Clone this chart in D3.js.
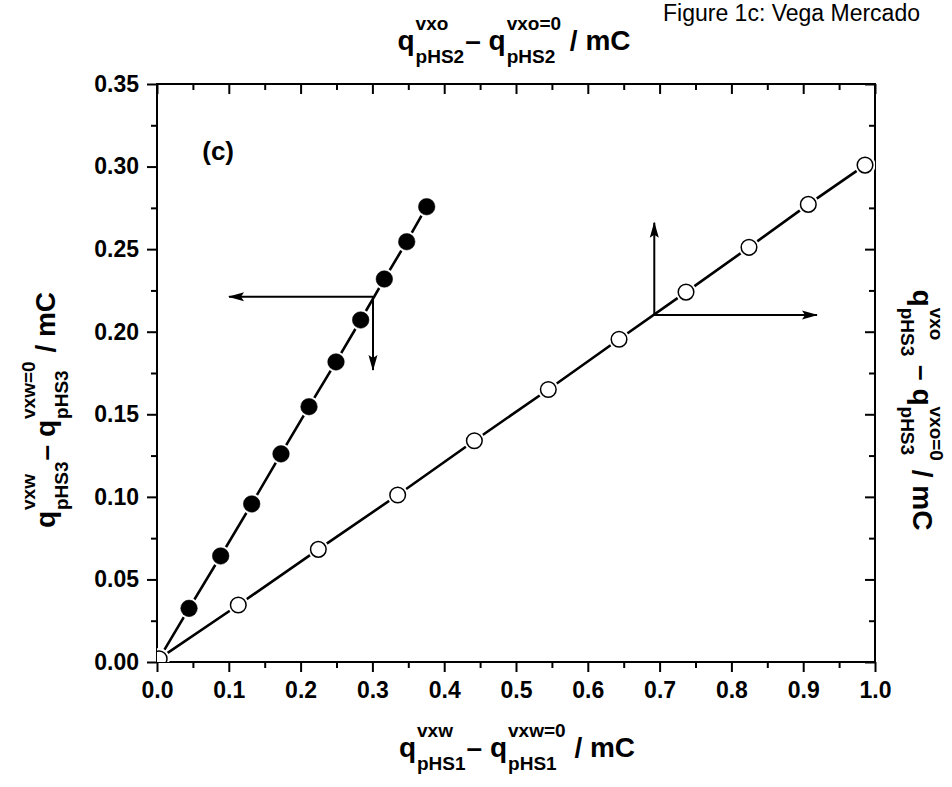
<!DOCTYPE html>
<html>
<head>
<meta charset="utf-8">
<script src="https://cdn.jsdelivr.net/npm/d3@7"></script>
<style>
  body { margin: 0; background: #fff; }
  svg { display: block; font-family: "Liberation Sans", Arial, sans-serif; }
</style>
</head>
<body>
<svg id="chart" width="952" height="787"></svg>
<script>
// Filled circles (vxw series, read on bottom/left axes)
const filledX = [0.003, 0.0446, 0.0887, 0.1319, 0.1727, 0.2117, 0.2493, 0.2837, 0.3166, 0.3478, 0.3756];
const filledY = [0.002, 0.0325, 0.0642, 0.0957, 0.1260, 0.1546, 0.1817, 0.2071, 0.2319, 0.2545, 0.2757];

// Open circles (vxo series, read on top/right axes)
const openX = [0.003, 0.1132, 0.2247, 0.3352, 0.442, 0.545, 0.6435, 0.7368, 0.8245, 0.9071, 0.9861];
const openY = [0.002, 0.0345, 0.0682, 0.1011, 0.134, 0.165, 0.1954, 0.2240, 0.2511, 0.2771, 0.3009];

const xTicks = [0, 0.1, 0.2, 0.3, 0.4, 0.5, 0.6, 0.7, 0.8, 0.9, 1.0];
const xMinor = [0.05, 0.15, 0.25, 0.35, 0.45, 0.55, 0.65, 0.75, 0.85, 0.95];
const yTicks = [0, 0.05, 0.1, 0.15, 0.2, 0.25, 0.3, 0.35];
const yMinor = [0.025, 0.075, 0.125, 0.175, 0.225, 0.275, 0.325];

// arrow annotations: [x1, y1, x2, y2] in data units
const arrows = [
  [0.3008, 0.2212, 0.1003, 0.2212],
  [0.3008, 0.2212, 0.3008, 0.1768],
  [0.6926, 0.2101, 0.6926, 0.2660],
  [0.6926, 0.2101, 0.9192, 0.2101]
];

const svg = d3.select("#chart");
const frame = { left: 157, right: 875, top: 84, bottom: 662 };

const x = d3.scaleLinear().domain([0, 1]).range([frame.left, frame.right]);
const y = d3.scaleLinear().domain([0, 0.35]).range([frame.bottom, frame.top]);

svg.append("rect").attr("width", 952).attr("height", 787).attr("fill", "#fff");

const defs = svg.append("defs");
defs.append("clipPath").attr("id", "plotClip")
  .append("rect")
  .attr("x", frame.left).attr("y", frame.top)
  .attr("width", frame.right - frame.left).attr("height", frame.bottom - frame.top);

defs.append("marker")
  .attr("id", "head")
  .attr("markerUnits", "userSpaceOnUse")
  .attr("viewBox", "0 0 16 10")
  .attr("refX", 15).attr("refY", 5)
  .attr("markerWidth", 16).attr("markerHeight", 10)
  .attr("orient", "auto")
  .append("path")
  .attr("d", "M0,0.5 L16,5 L0,9.5 L3,5 Z")
  .attr("fill", "#000");

function styleAxis(g, withText) {
  g.select(".domain").remove();
  g.selectAll(".tick line").attr("stroke", "#000").attr("stroke-width", 2);
  if (withText) {
    g.attr("font-size", 23).attr("font-weight", "bold")
      .attr("font-family", "'Liberation Sans', Arial, sans-serif");
    g.selectAll(".tick text").attr("fill", "#000");
  }
}

// bottom axis
svg.append("g").attr("transform", `translate(0,${frame.bottom})`)
  .call(d3.axisBottom(x).tickValues(xTicks).tickSize(10).tickPadding(10).tickFormat(d3.format(".1f")))
  .call(g => styleAxis(g, true));
svg.append("g").attr("transform", `translate(0,${frame.bottom})`)
  .call(d3.axisBottom(x).tickValues(xMinor).tickSize(6).tickFormat(""))
  .call(g => styleAxis(g, false));

// left axis
svg.append("g").attr("transform", `translate(${frame.left},0)`)
  .call(d3.axisLeft(y).tickValues(yTicks).tickSize(10).tickPadding(8).tickFormat(d3.format(".2f")))
  .call(g => styleAxis(g, true));
svg.append("g").attr("transform", `translate(${frame.left},0)`)
  .call(d3.axisLeft(y).tickValues(yMinor).tickSize(6).tickFormat(""))
  .call(g => styleAxis(g, false));

// top axis (ticks inside, no labels)
svg.append("g").attr("transform", `translate(0,${frame.top})`)
  .call(d3.axisTop(x).tickValues(xTicks).tickSize(-10).tickFormat(""))
  .call(g => styleAxis(g, false));
svg.append("g").attr("transform", `translate(0,${frame.top})`)
  .call(d3.axisTop(x).tickValues(xMinor).tickSize(-6).tickFormat(""))
  .call(g => styleAxis(g, false));

// right axis (ticks inside, no labels)
svg.append("g").attr("transform", `translate(${frame.right},0)`)
  .call(d3.axisRight(y).tickValues(yTicks).tickSize(-10).tickFormat(""))
  .call(g => styleAxis(g, false));
svg.append("g").attr("transform", `translate(${frame.right},0)`)
  .call(d3.axisRight(y).tickValues(yMinor).tickSize(-6).tickFormat(""))
  .call(g => styleAxis(g, false));

svg.append("rect")
  .attr("x", frame.left).attr("y", frame.top)
  .attr("width", frame.right - frame.left).attr("height", frame.bottom - frame.top)
  .attr("fill", "none").attr("stroke", "#000").attr("stroke-width", 2);

// series
const plot = svg.append("g").attr("clip-path", "url(#plotClip)");
const line = d3.line().x(d => x(d[0])).y(d => y(d[1]));

const filled = filledX.map((v, i) => [v, filledY[i]]);
const open = openX.map((v, i) => [v, openY[i]]);

function drawSeries(pts, isOpen) {
  plot.append("path").datum(pts)
    .attr("d", line).attr("fill", "none")
    .attr("stroke", "#000").attr("stroke-width", 2.6);
  // white halo gives the gap between line and symbol
  plot.selectAll(null).data(pts).enter().append("circle")
    .attr("cx", d => x(d[0])).attr("cy", d => y(d[1]))
    .attr("r", 10.5).attr("fill", "#fff");
  plot.selectAll(null).data(pts).enter().append("circle")
    .attr("cx", d => x(d[0])).attr("cy", d => y(d[1]))
    .attr("r", isOpen ? 7.8 : 8.3)
    .attr("fill", isOpen ? "#fff" : "#000")
    .attr("stroke", "#000").attr("stroke-width", isOpen ? 1.5 : 0.5);
}
drawSeries(filled, false);
drawSeries(open, true);

// arrows
svg.append("g").selectAll("line").data(arrows).enter().append("line")
  .attr("x1", d => x(d[0])).attr("y1", d => y(d[1]))
  .attr("x2", d => x(d[2])).attr("y2", d => y(d[3]))
  .attr("stroke", "#000").attr("stroke-width", 2)
  .attr("marker-end", "url(#head)");

// panel letter
svg.append("text")
  .attr("x", x(0.063)).attr("y", y(0.304))
  .attr("font-size", 26).attr("font-weight", "bold")
  .text("(c)");

svg.append("text")
  .attr("x", 920).attr("y", 21)
  .attr("text-anchor", "end")
  .attr("font-size", 23)
  .text("Figure 1c: Vega Mercado");

// axis titles with stacked super/subscripts
function scriptLabel(transform, parts, supDy = -20, subDy = 13) {
  const size = 28, small = 19;
  const g = svg.append("g").attr("transform", transform).attr("font-weight", "bold");
  const inner = g.append("g");
  let cx = 0;
  parts.forEach(p => {
    const t = inner.append("text").attr("x", cx).attr("font-size", size).text(p.base);
    cx += t.node().getComputedTextLength();
    let w = 0;
    if (p.sup) {
      const s = inner.append("text").attr("x", cx + 1).attr("y", supDy).attr("font-size", small).text(p.sup);
      w = Math.max(w, s.node().getComputedTextLength());
    }
    if (p.sub) {
      const s = inner.append("text").attr("x", cx + 1).attr("y", subDy).attr("font-size", small).text(p.sub);
      w = Math.max(w, s.node().getComputedTextLength());
    }
    if (w) cx += w + 2;
  });
  inner.attr("transform", `translate(${-cx / 2},0)`);
}

scriptLabel("translate(517,757)", [
  { base: "q", sup: "vxw", sub: "pHS1" },
  { base: "–\u00a0q", sup: "vxw=0", sub: "pHS1" },
  { base: "\u00a0/\u00a0mC" }
]);
scriptLabel("translate(514,50)", [
  { base: "q", sup: "vxo", sub: "pHS2" },
  { base: "–\u00a0q", sup: "vxo=0", sub: "pHS2" },
  { base: "\u00a0/\u00a0mC" }
]);
scriptLabel("translate(55,410) rotate(-90)", [
  { base: "q", sup: "vxw", sub: "pHS3" },
  { base: "–\u00a0q", sup: "vxw=0", sub: "pHS3" },
  { base: "\u00a0/\u00a0mC" }
]);
scriptLabel("translate(913,410) rotate(90)", [
  { base: "q", sup: "vxo", sub: "pHS3" },
  { base: "\u00a0–\u00a0q", sup: "vxo=0", sub: "pHS3" },
  { base: "\u00a0/\u00a0mC" }
], -17, 12);
</script>
</body>
</html>
